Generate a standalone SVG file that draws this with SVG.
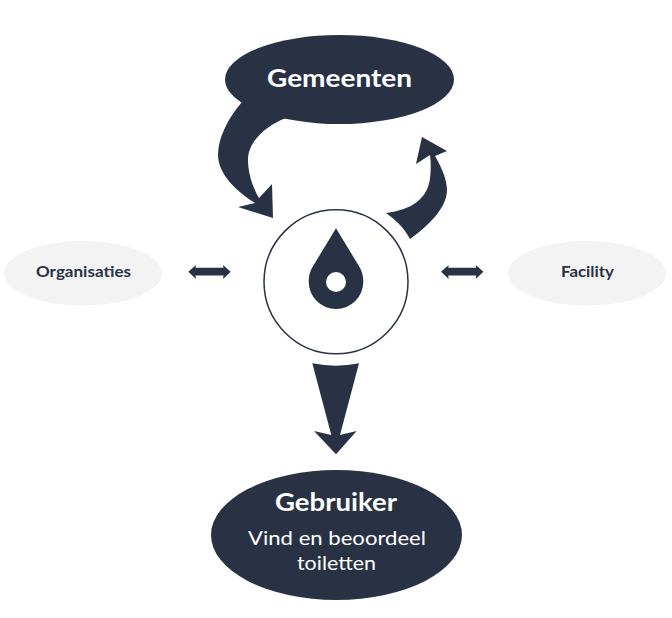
<svg xmlns="http://www.w3.org/2000/svg" width="672" height="618" viewBox="0 0 672 618">
<style>
.d{fill:#293245}
.g{fill:#f3f3f3}
text{font-family:"Lato","Noto Sans",sans-serif;text-anchor:middle}
.w{fill:#fff;font-weight:700}
.s{fill:#293245;font-weight:700;font-size:15.5px}
.l{fill:#fff;font-weight:400;font-size:20px}
</style>
<rect width="672" height="618" fill="#fff"/>
<g id="connectors">
<path class="d" d="M242 102C228 118 218 138 218 155C218 174 237 192 255 203L238 207L273 218L272 184L259 198C252 186 248 172 248 160C248 142 265 126 286 118Z"/>
<path class="d" d="M386 213C412 210 428 198 430 178C431 170 431 162 430 155L416 164L422 137L447 151L435 156C442 168 447 180 447 190C447 208 428 226 410 239C404 228 396 220 386 213Z"/>
<path class="d" d="M312.300 363.300Q336 368 359 363.300L340 435L356.700 431L336 454.300L314 431L331.300 435Z"/>
<path class="d" d="M188.300 271.700L196 265L195.500 267.800H223.500L223 265L230.700 271.700L223 279L223.500 275.500H195.500L196 279Z"/>
<path class="d" d="M441 271.700L448.700 265L448.200 267.800H476.200L475.700 265L483.400 271.700L475.700 279L476.200 275.500H448.200L448.700 279Z"/>
</g>
<g id="gemeenten">
<ellipse class="d" cx="339.500" cy="79.500" rx="114.500" ry="44.500"/>
<text class="w" x="339.500" y="87" font-size="25" textLength="145" lengthAdjust="spacingAndGlyphs">Gemeenten</text>
</g>
<g id="centre">
<circle cx="336" cy="281.800" r="72" fill="#fff" stroke="#293245" stroke-width="1.500"/>
<path class="d" d="M336 228.300L312.500 267C310 271 308.700 276 308.700 281.700A27.300 27.300 0 0 0 363.300 281.700C363.300 276 362 271 359.500 267Z"/>
<circle cx="336" cy="282" r="10" fill="#fff"/>
</g>
<g id="organisaties">
<ellipse class="g" cx="83" cy="273.300" rx="79" ry="32.300"/>
<text class="s" x="83.500" y="277" textLength="95" lengthAdjust="spacingAndGlyphs">Organisaties</text>
</g>
<g id="facility">
<ellipse class="g" cx="587" cy="273.300" rx="79" ry="32.300"/>
<text class="s" x="587.500" y="277" textLength="53" lengthAdjust="spacingAndGlyphs">Facility</text>
</g>
<g id="gebruiker">
<ellipse class="d" cx="336.500" cy="535" rx="125.500" ry="65"/>
<text class="w" x="336" y="511" font-size="25" textLength="122" lengthAdjust="spacingAndGlyphs">Gebruiker</text>
<text class="l" x="337" y="545" textLength="178" lengthAdjust="spacingAndGlyphs">Vind en beoordeel</text>
<text class="l" x="336.500" y="570" textLength="79" lengthAdjust="spacingAndGlyphs">toiletten</text>
</g>
</svg>
